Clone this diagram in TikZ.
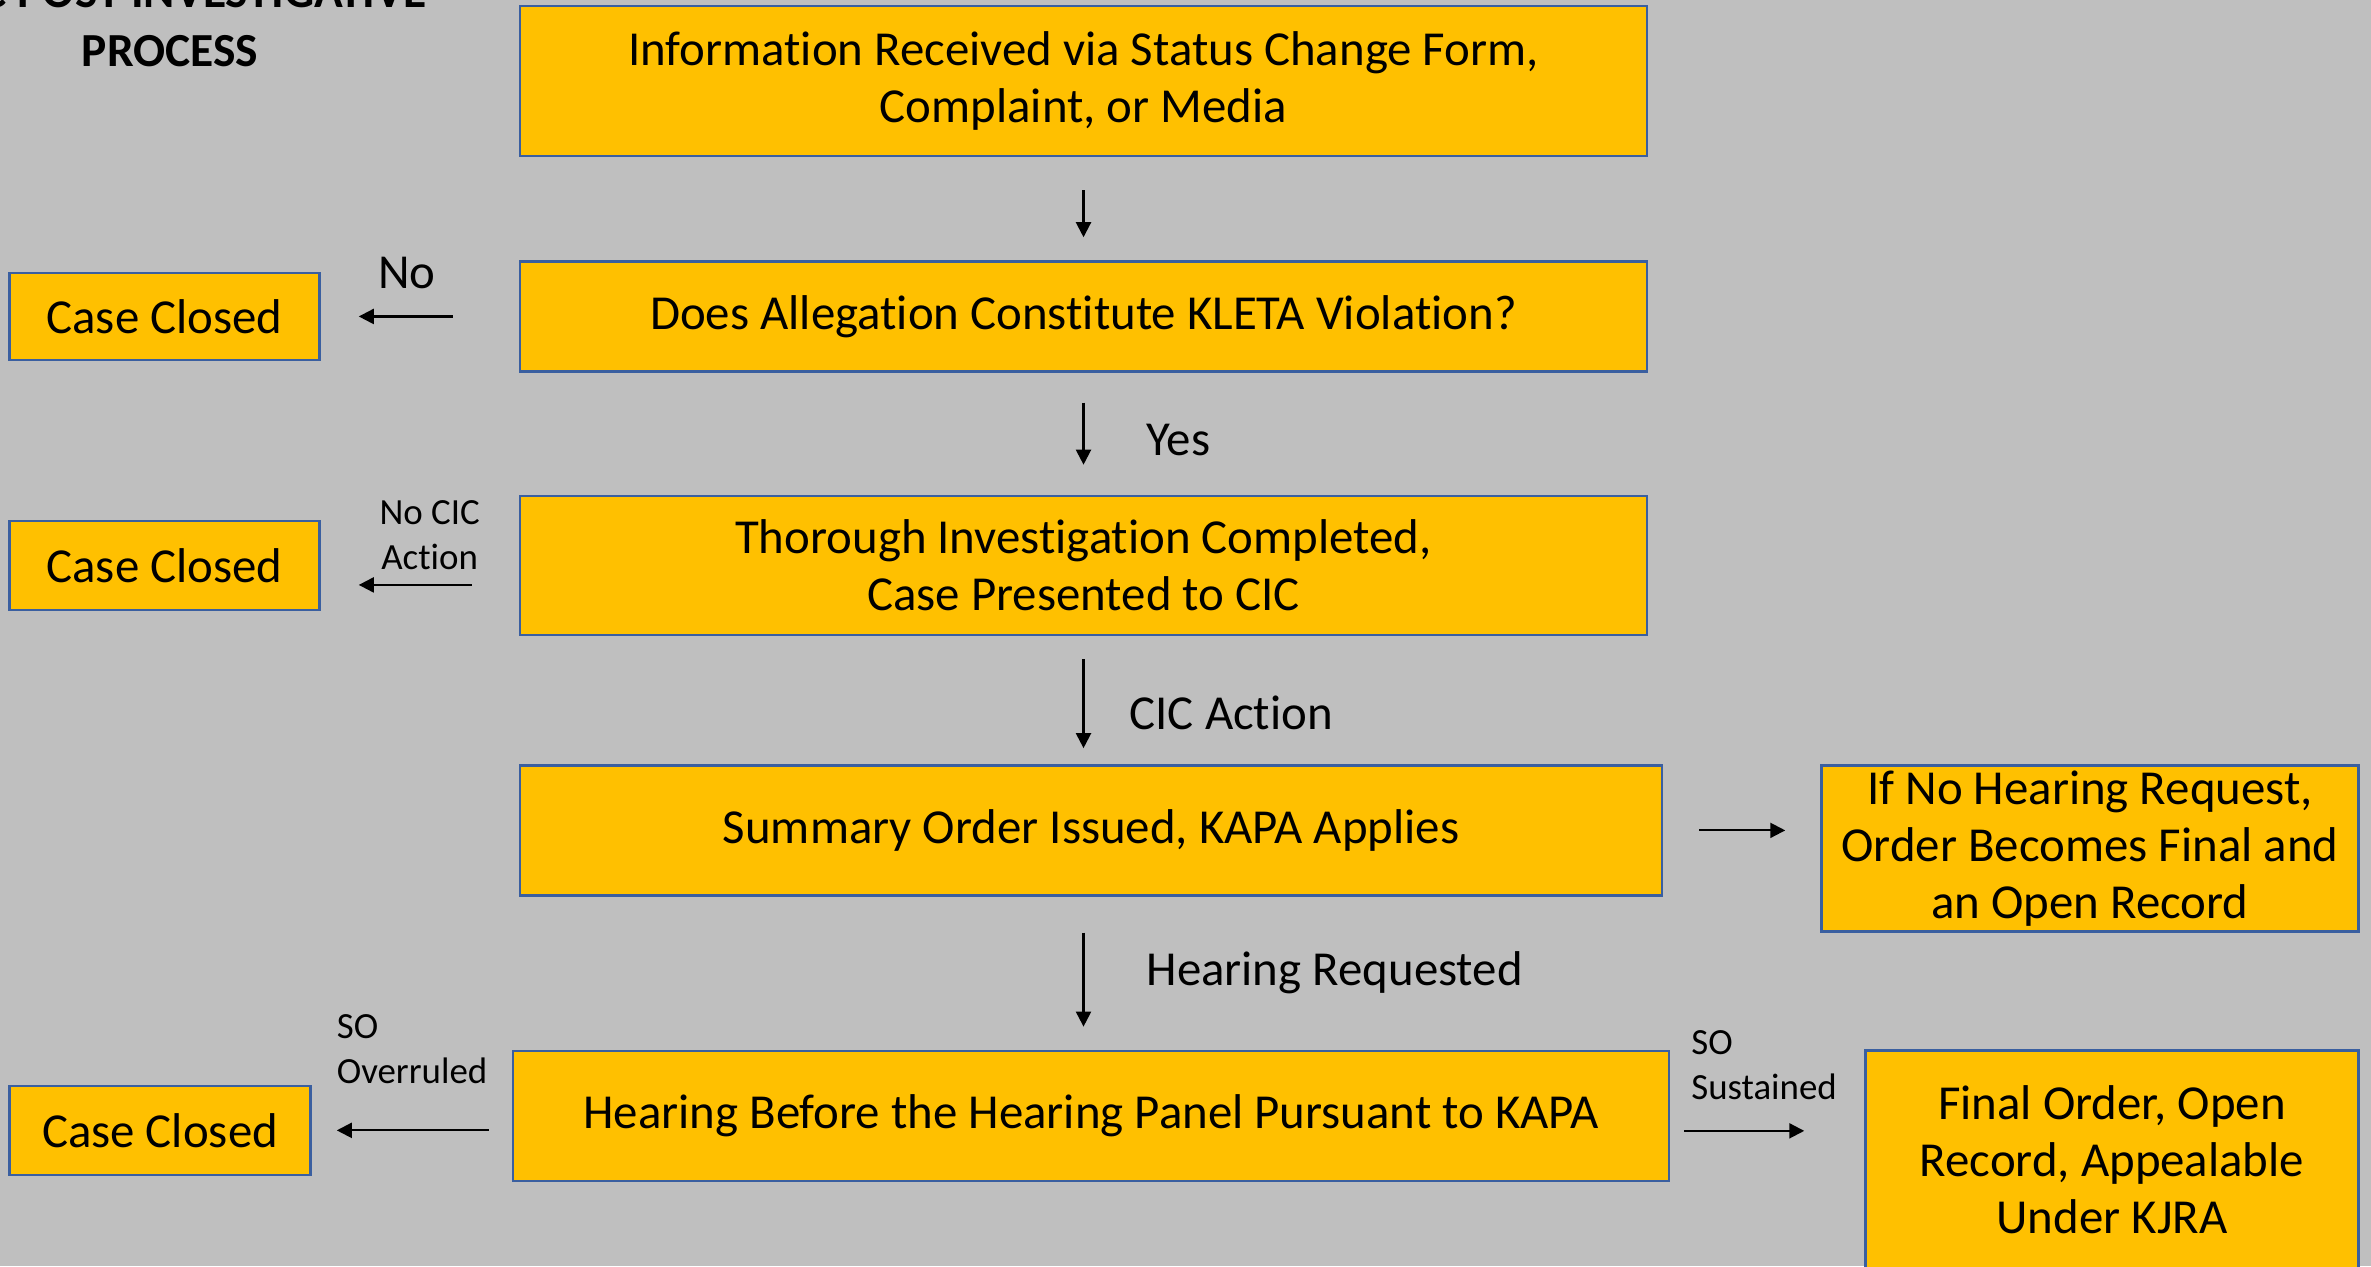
\documentclass[tikz,border=0pt]{standalone}
\usepackage{fontspec}
\setmainfont[Ligatures = {NoCommon, NoContextual}, Contextuals = NoAlternate]{Carlito}
\usepackage{tikz}
\usetikzlibrary{positioning}
\usetikzlibrary{arrows.meta}

\definecolor{slide}{RGB}{191,191,191}
\definecolor{boxfill}{RGB}{255,192,0}
\definecolor{boxline}{RGB}{58,95,160}

\newcommand{\boxfont}{\fontsize{13.9}{16.2}\selectfont}
\newcommand{\lblfont}{\fontsize{10.5}{12.8}\selectfont}
\newcommand{\ttlfont}{\fontsize{13.5}{16.8}\selectfont\bfseries}

\begin{document}
\begin{tikzpicture}[
            > = {Triangle[length=1.5mm,width=1.5mm]}, % arrow head style
            semithick, % line style
            node distance = 1cm
        ]

        \tikzstyle{proc}=[
            draw = boxline,
            line width = 0.7pt,
            fill = boxfill,
            align = center,
            inner sep = 0pt,
            font = \boxfont
        ]
        \tikzstyle{lbl}=[inner sep = 0pt, font = \lblfont]

        % slide background
        \fill[slide] (0,0) rectangle (23.71,12.66);
        \useasboundingbox (0,0) rectangle (23.71,12.66);

        % title
        \node[inner sep = 0pt, align = center, anchor = south, font = \ttlfont] (ttl) at (1.70,11.98)
            {KLEC POST INVESTIGATIVE\\PROCESS};

        % main column
        \node[proc, minimum width = 11.27cm, minimum height = 1.50cm] (info) at (10.835,11.85)
            {Information Received via Status Change Form,\\Complaint, or Media};
        \node[proc, minimum width = 11.27cm, minimum height = 1.10cm] (alleg) [below = 1.03cm of info]
            {Does Allegation Constitute KLETA Violation?};
        \node[proc, minimum width = 11.27cm, minimum height = 1.39cm] (inv) [below = 1.22cm of alleg]
            {Thorough Investigation Completed,\\Case Presented to CIC};
        \node[proc, minimum width = 11.42cm, minimum height = 1.30cm] (summ) [below = 1.28cm of inv.south west, anchor = north west]
            {Summary Order Issued, KAPA Applies};
        \node[proc, minimum width = 11.56cm, minimum height = 1.30cm] (hear) [below = 1.53cm of summ.south west, anchor = north west, xshift = -0.07cm]
            {Hearing Before the Hearing Panel Pursuant to KAPA};

        % outcomes
        \node[proc, minimum width = 3.10cm, minimum height = 0.87cm] (cc1) [left = 1.98cm of alleg] {Case Closed};
        \node[proc, minimum width = 3.10cm, minimum height = 0.89cm] (cc2) [left = 1.98cm of inv] {Case Closed};
        \node[proc, minimum width = 3.01cm, minimum height = 0.89cm] (cc3) [left = 2.00cm of hear, yshift = -0.145cm] {Case Closed};
        \node[proc, minimum width = 5.37cm, minimum height = 1.66cm] (nohr) [right = 1.57cm of summ, yshift = -0.18cm]
            {If No Hearing Request,\\Order Becomes Final and\\an Open Record};
        \node[proc, minimum width = 4.93cm, minimum height = 2.19cm] (fin) [right = 1.94cm of hear, yshift = -0.44cm]
            {Final Order, Open\\Record, Appealable\\Under KJRA};

        % down the column
        \path[->, shorten <= 0.33cm, shorten >= 0.23cm] (info) edge (alleg);
        \draw[->, shorten <= 0.30cm, shorten >= 0.30cm] (alleg) -- (inv)
            node[lbl, font = \boxfont, pos = 0.55, right = 0.62cm] {Yes};
        \draw[->, shorten <= 0.23cm, shorten >= 0.16cm] (inv.south) -- (inv.south |- summ.north)
            node[lbl, font = \boxfont, pos = 0.6, right = 0.45cm] {CIC Action};
        \draw[->, shorten <= 0.36cm, shorten >= 0.23cm] (inv.south |- summ.south) -- (inv.south |- hear.north)
            node[lbl, font = \boxfont, pos = 0.5, right = 0.62cm] {Hearing Requested};

        % side branches
        \draw[->, shorten <= 0.66cm, shorten >= 0.38cm] (alleg) -- (cc1)
            node[lbl, font = \boxfont, pos = 0.566, above = 0.27cm] {No};
        \draw[->, shorten <= 0.47cm, shorten >= 0.38cm] ([yshift = -0.195cm]inv.west) -- ([yshift = -0.195cm]inv.west -| cc2.east)
            node[lbl, align = center, pos = 0.45, above = 0.14cm] {No CIC\\Action};
        \draw[->, shorten <= 0.36cm, shorten >= 0.35cm] (summ.east) -- (summ.east -| nohr.west);
        \draw[->, shorten <= 0.23cm, shorten >= 0.25cm] (hear.west |- cc3.east) -- (cc3.east)
            node[lbl, align = left, pos = 1, anchor = south west, xshift = 0.24cm, yshift = 0.46cm] {SO\\Overruled};
        \draw[->, shorten <= 0.14cm, shorten >= 0.60cm] ([yshift = -0.15cm]hear.east) -- ([yshift = -0.15cm]hear.east -| fin.west)
            node[lbl, align = left, pos = 0, anchor = south west, xshift = 0.20cm, yshift = 0.30cm] {SO\\Sustained};

\end{tikzpicture}
\end{document}
